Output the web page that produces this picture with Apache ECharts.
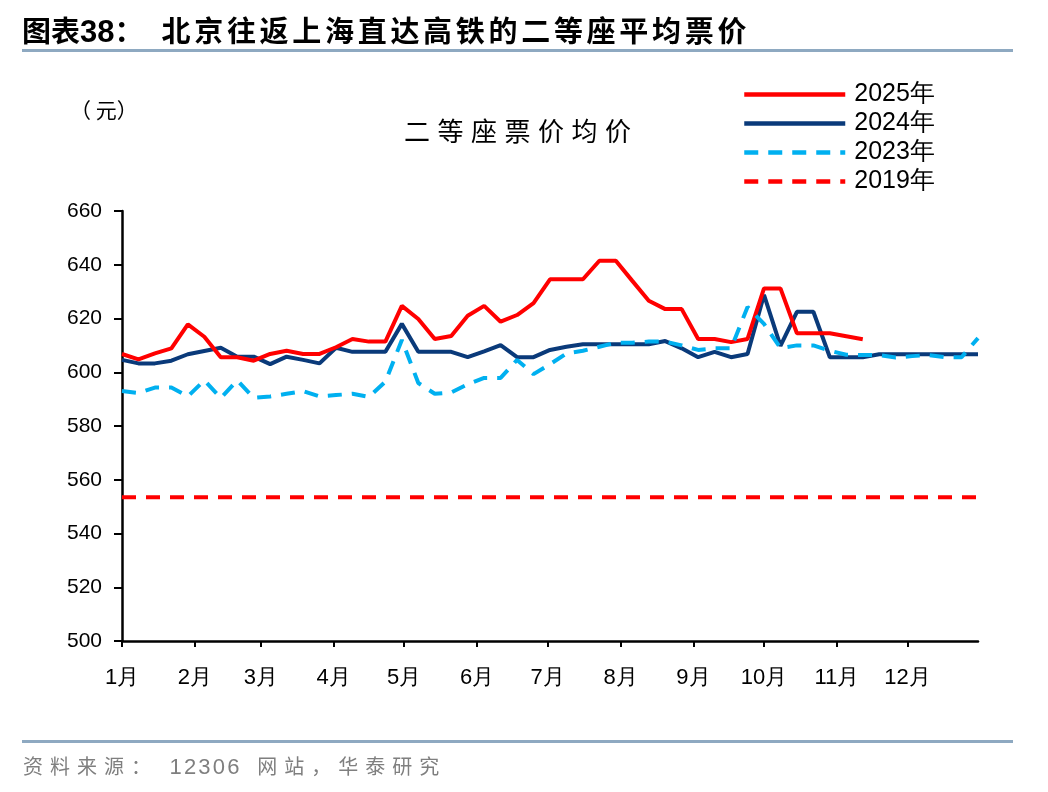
<!DOCTYPE html>
<html>
<head>
<meta charset="utf-8">
<script src="https://cdn.jsdelivr.net/npm/echarts@6/dist/echarts.min.js"></script>
<style>
html,body{margin:0;padding:0;background:#fff;}
#wrap{position:relative;width:1048px;height:792px;overflow:hidden;}
#chart{position:absolute;left:0;top:0;width:1048px;height:792px;}
.hdr{position:absolute;left:22px;top:10px;font-family:"Noto Sans CJK SC";font-weight:bold;font-size:29px;color:#000;white-space:nowrap;line-height:38px;}
.hdr .n{font-family:"Liberation Sans";font-size:31px;}
.hdr .t2{letter-spacing:3.7px;margin-left:18px;}
.rule{position:absolute;left:22px;width:991px;height:3px;background:#8EA9C1;}
.ctitle{position:absolute;left:404px;top:112px;font-family:"Noto Sans CJK SC";font-size:26px;color:#000;letter-spacing:7.5px;white-space:nowrap;line-height:36px;}
.unit{position:absolute;left:70px;top:94px;font-family:"Noto Sans CJK SC";font-size:21px;color:#000;white-space:nowrap;line-height:30px;}
.src{position:absolute;left:23px;top:751px;font-family:"Noto Sans CJK SC";font-size:20px;color:#7f7f7f;letter-spacing:7px;white-space:nowrap;line-height:30px;}
.src .num{font-family:"Liberation Sans";font-size:22px;letter-spacing:2.2px;margin-right:4px;}
</style>
</head>
<body>
<div id="wrap">
<div id="chart"></div>
<div class="hdr">图表<span class="n">38</span>：<span class="t2">北京往返上海直达高铁的二等座平均票价</span></div>
<div class="rule" style="top:49px"></div>
<div class="rule" style="top:740px"></div>
<div class="unit">（ 元）</div>
<div class="ctitle">二等座票价均价</div>
<div class="src">资料来源： <span class="num">12306</span> 网站，华泰研究</div>
</div>
<script>
// Month tick positions (day of year) and labels
const monthStartDays = [0,31,59,90,120,151,181,212,243,273,304,334];
const monthLabels = ['1月','2月','3月','4月','5月','6月','7月','8月','9月','10月','11月','12月'];
const yTicks = [500,520,540,560,580,600,620,640,660];

// Weekly average second-class fare (yuan), week index 0 = start of year
const fare2025 = [606.8,604.8,607,608.9,617.8,613.2,605.6,605.6,604.3,606.8,608,606.8,606.8,609.3,612.4,611.4,611.4,624.7,619.8,612.4,613.5,621,624.7,618.8,621.3,625.7,634.6,634.6,634.6,641.5,641.5,634,626.6,623.5,623.5,612.4,612.4,611.2,612.4,631.2,631.2,614.5,614.5,614.5,613.4,612.3];
const fare2024 = [604.6,603.3,603.3,604.3,606.7,607.9,609.1,605.8,605.8,603.0,605.8,604.6,603.3,609.1,607.6,607.6,607.6,618,607.6,607.6,607.6,605.6,607.8,610.1,605.6,605.6,608.3,609.5,610.4,610.4,610.4,610.4,610.4,611.6,608.9,605.6,607.6,605.6,606.8,628.8,609.8,622.5,622.5,605.6,605.6,605.6,606.7,606.7,606.7,606.7,606.7,606.7,606.7];
const fare2023 = [593,592.3,594.3,594.3,591,597,590.4,597,590.5,591,592,593,591,591.5,592,590.8,596.5,612,596,592,592.5,595.5,597.9,597.9,604.6,599.3,603,607,608,609.5,611,611,611.4,611.4,610,608.3,608.9,608.9,624.3,618,609,610,610,608,606.5,606.4,606.4,605.5,606,606.4,605.6,605.6,612.7];
const fare2019Avg = 553.5;
const weeksInYear = 52;
const daysPerWeek = 7;

function toPoints(arr){ return arr.map((v,i)=>[i*daysPerWeek, v]); }
const pts2019 = [[0, fare2019Avg],[weeksInYear*daysPerWeek, fare2019Avg]];

const chart = echarts.init(document.getElementById('chart'));
const numFont = 'Liberation Sans';
chart.setOption({
  animation:false,
  backgroundColor:'#fff',
  legend:{
    orient:'vertical', left:737, top:77, itemWidth:101, itemHeight:12, itemGap:4,
    itemStyle:{opacity:0},
    lineStyle:{width:4.5},
    textStyle:{fontFamily:'Liberation Sans', fontSize:25, color:'#000', padding:[0,0,0,4]},
    data:['2025年','2024年','2023年','2019年']
  },
  grid:{left:122, right:70, top:211, bottom:151, containLabel:false},
  xAxis:{
    type:'value', min:0, max:weeksInYear*daysPerWeek,
    axisLine:{lineStyle:{color:'#000', width:2.5}},
    axisTick:{show:true, length:6, lineStyle:{color:'#000', width:2}, customValues:monthStartDays},
    axisLabel:{customValues:monthStartDays, margin:26, fontFamily:numFont, fontSize:22, color:'#000',
      formatter:function(v){ const k = monthStartDays.indexOf(v); return k>=0 ? monthLabels[k] : ''; }},
    splitLine:{show:false}
  },
  yAxis:{
    type:'value', min:yTicks[0], max:yTicks[yTicks.length-1], interval:20,
    axisLine:{show:true, lineStyle:{color:'#000', width:2.5}},
    axisTick:{show:true, length:8, lineStyle:{color:'#000', width:2}},
    axisLabel:{margin:20, fontFamily:numFont, fontSize:21, color:'#000'},
    splitLine:{show:false}
  },
  series:[
    {name:'2025年', type:'line', data:toPoints(fare2025), symbol:'none', z:5,
      lineStyle:{color:'#FF0000', width:4}, itemStyle:{color:'#FF0000'}},
    {name:'2024年', type:'line', data:toPoints(fare2024), symbol:'none', z:4,
      lineStyle:{color:'#0A3A7A', width:4}, itemStyle:{color:'#0A3A7A'}},
    {name:'2023年', type:'line', data:toPoints(fare2023), symbol:'none', z:6,
      lineStyle:{color:'#00B0F0', width:4, type:[14,10]}, itemStyle:{color:'#00B0F0'}},
    {name:'2019年', type:'line', data:pts2019, symbol:'none', z:3,
      lineStyle:{color:'#FF0000', width:4, type:[14,10]}, itemStyle:{color:'#FF0000'}}
  ]
});
</script>
</body>
</html>
